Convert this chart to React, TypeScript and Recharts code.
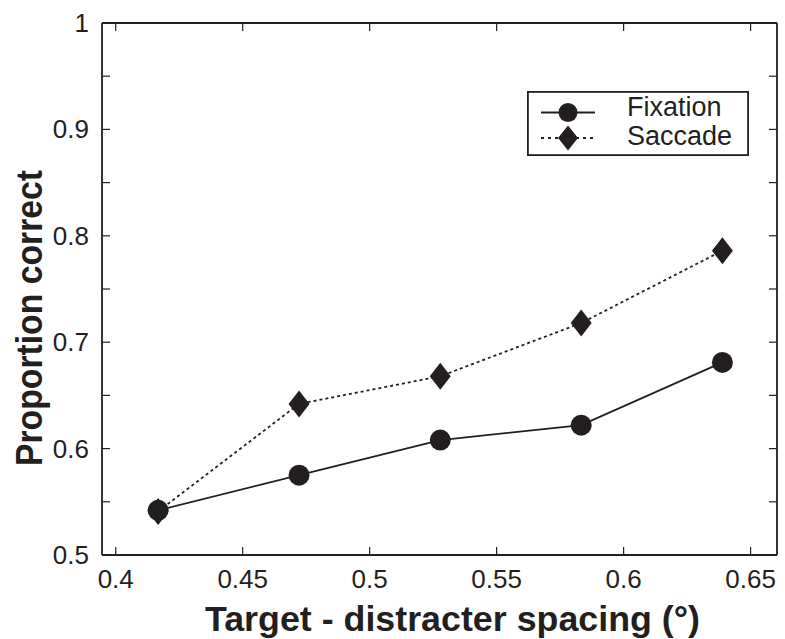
import React from 'react';
import { LineChart, Line, XAxis, YAxis, Legend } from 'recharts';

const spacing = [0.4167, 0.4722, 0.5278, 0.5833, 0.6389];
const fixation = [0.542, 0.575, 0.608, 0.622, 0.681];
const saccade = [0.541, 0.642, 0.668, 0.718, 0.786];
const xTicks = [0.4, 0.45, 0.5, 0.55, 0.6, 0.65];
const yTicks = [0.5, 0.55, 0.6, 0.65, 0.7, 0.75, 0.8, 0.85, 0.9, 0.95, 1];

const data = spacing.map((x, i) => ({ x, fixation: fixation[i], saccade: saccade[i] }));

const INK = '#231f20';
const FONT = '"Liberation Sans", Arial, Helvetica, sans-serif';
const TICK_LEN = 8;

const BottomTick = (props: any) => {
    const { x, y, payload } = props;
    return (
        <g>
            <line x1={x} y1={y} x2={x} y2={y - TICK_LEN} stroke={INK} strokeWidth={1.2} />
            <text x={x} y={y + 33} textAnchor="middle" fontSize={26} fontFamily={FONT} fill={INK}>
                {String(payload.value)}
            </text>
        </g>
    );
};

const TopTick = (props: any) => {
    const { x, y } = props;
    return <line x1={x} y1={y} x2={x} y2={y + TICK_LEN} stroke={INK} strokeWidth={1.2} />;
};

const LeftTick = (props: any) => {
    const { x, y, payload } = props;
    const v = payload.value;
    const labelled = Math.abs(v * 10 - Math.round(v * 10)) < 1e-6;
    return (
        <g>
            <line x1={x} y1={y} x2={x + TICK_LEN} y2={y} stroke={INK} strokeWidth={1.2} />
            {labelled && (
                <text x={x - 13} y={y + 9} textAnchor="end" fontSize={26} fontFamily={FONT} fill={INK}>
                    {String(v)}
                </text>
            )}
        </g>
    );
};

const RightTick = (props: any) => {
    const { x, y } = props;
    return <line x1={x} y1={y} x2={x - TICK_LEN} y2={y} stroke={INK} strokeWidth={1.2} />;
};

const CircleDot = (props: any) => {
    const { cx, cy, index } = props;
    return <circle key={`c-${index}`} cx={cx} cy={cy} r={10.5} fill={INK} />;
};

const DiamondDot = (props: any) => {
    const { cx, cy, index } = props;
    const w = 10.5;
    const h = 13.5;
    return (
        <polygon
            key={`d-${index}`}
            points={`${cx},${cy - h} ${cx + w},${cy} ${cx},${cy + h} ${cx - w},${cy}`}
            fill={INK}
        />
    );
};

const LegendBox = () => (
    <svg width={222} height={65} style={{ display: 'block' }}>
        <rect x={0.9} y={0.9} width={220.2} height={63.2} fill="#fff" stroke={INK} strokeWidth={1.8} />
        <line x1={14} y1={21.5} x2={68} y2={21.5} stroke={INK} strokeWidth={1.8} />
        <circle cx={41} cy={21.5} r={9.5} fill={INK} />
        <text x={100} y={25} fontSize={27} fontFamily={FONT} fill={INK}>Fixation</text>
        <line x1={14} y1={47} x2={68} y2={47} stroke={INK} strokeWidth={1.8} strokeDasharray="3 4" />
        <polygon points="41,34.5 51,47 41,59.5 31,47" fill={INK} />
        <text x={100} y={54} fontSize={27} fontFamily={FONT} fill={INK}>Saccade</text>
    </svg>
);

const YTitle = () => (
    <text
        transform="translate(42 318) rotate(-90)"
        textAnchor="middle"
        fontSize={36}
        fontWeight="bold"
        fontFamily={FONT}
        textLength={296}
        lengthAdjust="spacingAndGlyphs"
        fill={INK}
    >
        Proportion correct
    </text>
);

const XTitle = () => (
    <text
        x={452.5}
        y={631}
        textAnchor="middle"
        fontSize={34.5}
        fontWeight="bold"
        fontFamily={FONT}
        textLength={495}
        lengthAdjust="spacingAndGlyphs"
        fill={INK}
    >
        Target - distracter spacing (°)
    </text>
);

export default function App() {
    return (
        <div style={{ position: 'absolute', left: 0, top: 0, width: 785, height: 639, background: '#fff' }}>
            <LineChart width={785} height={639} data={data} margin={{ top: 22, right: 7, bottom: 83, left: 0 }}>
                <XAxis
                    dataKey="x"
                    type="number"
                    domain={[0.3946, 0.6604]}
                    allowDataOverflow
                    ticks={xTicks}
                    interval={0}
                    height={1}
                    tickSize={0}
                    tickMargin={0}
                    tickLine={false}
                    axisLine={{ stroke: INK, strokeWidth: 1.8 }}
                    tick={<BottomTick />}
                    label={<XTitle />}
                />
                <XAxis
                    xAxisId="top"
                    orientation="top"
                    dataKey="x"
                    type="number"
                    domain={[0.3946, 0.6604]}
                    allowDataOverflow
                    ticks={xTicks}
                    interval={0}
                    height={1}
                    tickSize={0}
                    tickMargin={0}
                    tickLine={false}
                    axisLine={{ stroke: INK, strokeWidth: 1.8 }}
                    tick={<TopTick />}
                />
                <YAxis
                    type="number"
                    domain={[0.5, 1]}
                    allowDataOverflow
                    ticks={yTicks}
                    interval={0}
                    width={102}
                    tickSize={0}
                    tickMargin={0}
                    tickLine={false}
                    axisLine={{ stroke: INK, strokeWidth: 1.8 }}
                    tick={<LeftTick />}
                    label={<YTitle />}
                />
                <YAxis
                    yAxisId="right"
                    orientation="right"
                    type="number"
                    domain={[0.5, 1]}
                    allowDataOverflow
                    ticks={yTicks}
                    interval={0}
                    width={1}
                    tickSize={0}
                    tickMargin={0}
                    tickLine={false}
                    axisLine={{ stroke: INK, strokeWidth: 1.8 }}
                    tick={<RightTick />}
                />
                <Legend
                    layout="horizontal"
                    verticalAlign="middle"
                    align="center"
                    content={() => <LegendBox />}
                    wrapperStyle={{ position: 'absolute', left: 527, top: 91, width: 222, height: 65 }}
                />
                <Line
                    dataKey="fixation"
                    name="Fixation"
                    stroke={INK}
                    strokeWidth={1.8}
                    dot={<CircleDot />}
                    activeDot={false}
                    isAnimationActive={false}
                />
                <Line
                    dataKey="saccade"
                    name="Saccade"
                    stroke={INK}
                    strokeWidth={1.8}
                    strokeDasharray="3 3"
                    dot={<DiamondDot />}
                    activeDot={false}
                    isAnimationActive={false}
                />
            </LineChart>
        </div>
    );
}
